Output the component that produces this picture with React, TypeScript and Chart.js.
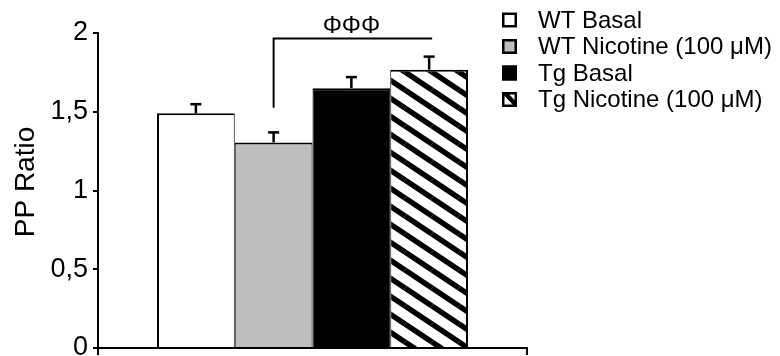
import React, { useEffect, useRef } from 'react';
import { Chart, registerables } from 'chart.js';

Chart.register(...registerables);

// ---- data ----
const categories = [''];
const seriesLabels = ['WT Basal', 'WT Nicotine (100 μM)', 'Tg Basal', 'Tg Nicotine (100 μM)'];
const seriesValues = [1.49, 1.305, 1.65, 1.767];
const seriesErrors = [0.058, 0.064, 0.07, 0.083];
const yTickValues = [0, 0.5, 1, 1.5, 2];
const yTickLabels = ['0', '0,5', '1', '1,5', '2'];
const yAxisTitle = 'PP Ratio';
const significanceLabel = 'ΦΦΦ';
const bracketFromSeries = 1;
const bracketToSeries = 3;
const bracketLevel = 1.965;
const bracketLegBottom = 1.525;

const FONT = "'Liberation Sans', Arial, sans-serif";

function makeHatch(ctx: CanvasRenderingContext2D): CanvasPattern | string {
  const W = 27, H = 18;
  const c = document.createElement('canvas');
  c.width = W; c.height = H;
  const g = c.getContext('2d');
  if (!g) return '#fff';
  g.fillStyle = '#fff';
  g.fillRect(0, 0, W, H);
  g.strokeStyle = '#000';
  g.lineWidth = 5.5;
  for (const dx of [-W, 0, W]) {
    for (const dy of [-H, 0, H]) {
      g.beginPath();
      g.moveTo(dx, dy);
      g.lineTo(dx + W, dy + H);
      g.stroke();
    }
  }
  return ctx.createPattern(c, 'repeat') || '#fff';
}

export default function App() {
  const ref = useRef<HTMLCanvasElement | null>(null);

  useEffect(() => {
    document.body.style.margin = '0';
    const canvas = ref.current;
    if (!canvas) return;
    const ctx = canvas.getContext('2d');
    if (!ctx) return;
    const hatch = makeHatch(ctx);
    const fills = ['#ffffff', '#bebebe', '#000000', hatch];
    const borders = [
      { top: 2, left: 2, right: 1, bottom: 0 },
      { top: 2, left: 1, right: 1, bottom: 0 },
      { top: 2, left: 1, right: 1, bottom: 0 },
      { top: 2, left: 1, right: 2, bottom: 0 },
    ];

    const overlay = {
      id: 'overlay',
      afterDatasetsDraw(chart: any) {
        const c = chart.ctx as CanvasRenderingContext2D;
        const ys = chart.scales.y;
        c.save();
        c.strokeStyle = '#000';
        c.lineCap = 'butt';
        // error bars
        seriesValues.forEach((v, i) => {
          const bar = chart.getDatasetMeta(i).data[0];
          const yTop = ys.getPixelForValue(v + seriesErrors[i]);
          c.lineWidth = 2.5;
          c.beginPath();
          c.moveTo(bar.x, bar.y);
          c.lineTo(bar.x, yTop);
          c.stroke();
          c.beginPath();
          c.moveTo(bar.x - 5.5, yTop);
          c.lineTo(bar.x + 5.5, yTop);
          c.stroke();
        });
        // significance bracket
        const b1 = chart.getDatasetMeta(bracketFromSeries).data[0];
        const b2 = chart.getDatasetMeta(bracketToSeries).data[0];
        const yb = ys.getPixelForValue(bracketLevel);
        const yl = ys.getPixelForValue(bracketLegBottom);
        c.lineWidth = 2;
        c.beginPath();
        c.moveTo(b1.x, yl);
        c.lineTo(b1.x, yb);
        c.lineTo(b2.x + 3, yb);
        c.stroke();
        c.fillStyle = '#000';
        c.font = `24px ${FONT}`;
        c.textAlign = 'center';
        c.textBaseline = 'alphabetic';
        c.fillText(significanceLabel, (b1.x + b2.x) / 2, yb - 6);
        c.restore();
      },
      afterDraw(chart: any) {
        const c = chart.ctx as CanvasRenderingContext2D;
        c.save();
        // y axis title
        c.fillStyle = '#000';
        c.font = `28px ${FONT}`;
        c.translate(34, 182);
        c.rotate(-Math.PI / 2);
        c.textAlign = 'center';
        c.textBaseline = 'alphabetic';
        c.fillText(yAxisTitle, 0, 0);
        c.restore();

        // legend
        c.save();
        const bx = 502, size = 15, tx = 538;
        const rows = [20, 46.5, 73, 99.5];
        seriesLabels.forEach((label, i) => {
          const cy = rows[i];
          const top = cy - size / 2;
          if (i === 3) {
            c.fillStyle = '#fff';
            c.fillRect(bx, top, size, size);
            c.save();
            c.beginPath();
            c.rect(bx, top, size, size);
            c.clip();
            c.strokeStyle = '#000';
            c.lineWidth = 4.5;
            c.beginPath();
            c.moveTo(bx + 2, top);
            c.lineTo(bx + size, top + size - 1);
            c.stroke();
            c.restore();
          } else {
            c.fillStyle = fills[i] as string;
            c.fillRect(bx, top, size, size);
          }
          c.strokeStyle = '#000';
          c.lineWidth = 2.5;
          c.strokeRect(bx + 1.25, top + 1.25, size - 2.5, size - 2.5);
          c.fillStyle = '#000';
          c.font = `24px ${FONT}`;
          c.textAlign = 'left';
          c.textBaseline = 'middle';
          c.fillText(label, tx, cy + 1);
        });
        c.restore();
      },
    };

    const chart = new Chart(ctx, {
      type: 'bar',
      data: {
        labels: categories,
        datasets: seriesLabels.map((label, i) => ({
          label,
          data: [seriesValues[i]],
          backgroundColor: fills[i] as any,
          borderColor: '#000',
          borderWidth: borders[i] as any,
          borderSkipped: 'start' as any,
          barPercentage: 1,
          categoryPercentage: 0.725,
        })),
      },
      options: {
        animation: false,
        responsive: false,
        events: [],
        layout: { padding: { left: 0, right: 253, top: 33, bottom: 0 } },
        plugins: {
          legend: { display: false },
          tooltip: { enabled: false },
          title: { display: false },
        },
        scales: {
          x: {
            type: 'category',
            offset: true,
            grid: {
              display: true,
              drawOnChartArea: false,
              drawTicks: true,
              tickLength: 7,
              color: '#000',
              lineWidth: 2,
              offset: true,
            },
            border: { display: true, color: '#000', width: 2 },
            ticks: { display: false },
            afterFit: (s: any) => { s.height = 8; s.paddingLeft = 0; s.paddingRight = 0; },
          },
          y: {
            min: 0,
            max: 2,
            afterBuildTicks: (s: any) => { s.ticks = yTickValues.map((v) => ({ value: v })); },
            ticks: {
              callback: (v: any) => yTickLabels[yTickValues.indexOf(Number(v))],
              font: { family: FONT, size: 27 },
              color: '#000',
              padding: 5,
            },
            grid: {
              drawOnChartArea: false,
              drawTicks: true,
              tickLength: 5,
              color: '#000',
              lineWidth: 2,
            },
            border: { display: true, color: '#000', width: 2 },
            afterFit: (s: any) => { s.width = 98; s.paddingTop = 0; s.paddingBottom = 0; },
          },
        },
      },
      plugins: [overlay],
    });

    return () => chart.destroy();
  }, []);

  return (
    <div style={{ width: 780, height: 356, background: '#fff' }}>
      <canvas ref={ref} width={780} height={356} style={{ display: 'block', width: 780, height: 356 }} />
    </div>
  );
}
